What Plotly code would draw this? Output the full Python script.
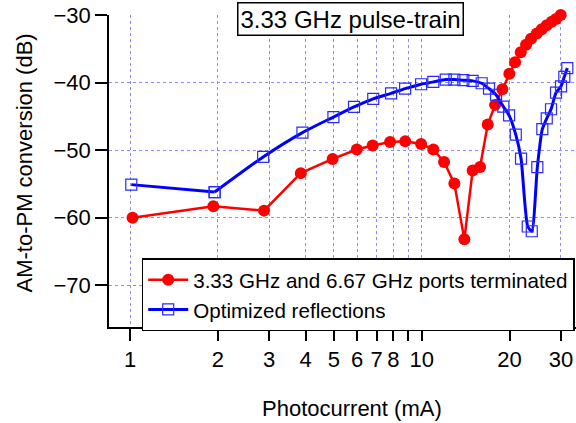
import numpy as np
import plotly.graph_objects as go

# Data
red_x = [1.02, 1.93, 2.88, 3.85, 4.95, 5.99, 6.79, 7.79, 8.78, 9.95, 10.96, 11.93, 12.94, 14.0,
         14.95, 15.85, 16.84, 17.84, 18.90, 19.97, 20.89, 21.85, 22.79, 23.70, 24.80, 25.79,
         26.83, 27.91, 28.87, 29.96]
red_y = [-60.0, -58.3, -58.95, -53.4, -51.3, -49.9, -49.3, -48.8, -48.7, -49.1, -49.9, -51.75,
         -54.95, -63.2, -53.0, -52.5, -46.2, -43.3, -41.0, -38.7, -37.0, -35.5, -34.4, -33.5,
         -32.75, -32.1, -31.5, -31.0, -30.6, -30.0]

blue_x = [1.01, 1.95, 2.86, 3.90, 4.98, 5.86, 6.82, 7.85, 8.77, 9.95, 10.96, 12.09, 12.94, 13.89,
          14.95, 16.05, 17.01, 17.98, 19.05, 19.93, 21.01, 21.90, 23.09, 23.84, 24.91, 25.91,
          26.83, 27.75, 28.87, 30.03, 30.82, 31.56]
blue_y = [-55.1, -56.2, -51.0, -47.4, -45.1, -43.6, -42.4, -41.6, -40.9, -40.25, -39.9, -39.55,
          -39.55, -39.65, -39.75, -40.1, -40.9, -41.8, -43.55, -44.85, -47.7, -51.25, -61.3,
          -62.0, -52.5, -46.9, -45.3, -43.95, -41.5, -40.55, -39.15, -37.85]

red_name = "3.33 GHz and 6.67 GHz ports terminated"
blue_name = "Optimized reflections"
title_text = "3.33 GHz pulse-train"
x_title = "Photocurrent (mA)"
y_title = "AM-to-PM conversion (dB)"

x_tickvals = [1, 2, 3, 4, 5, 6, 7, 8, 9, 10, 20, 30]
x_ticktext = ["1", "2", "3", "4", "5", "6", "7", "8", "", "10", "20", "30"]
y_tickvals = [-30, -40, -50, -60, -70]

FONT = "Liberation Sans, Arial, Helvetica, sans-serif"
GRID = "#8c8cff"

L, R, T, B = 109, 0, 15, 96
W, H = 576, 423
PW, PH = W - L - R, H - T - B

blue_marker = dict(symbol="square-open", size=11, color="#2a2aff", line=dict(width=1.2))

fig = go.Figure()
fig.add_trace(go.Scatter(
    x=red_x, y=red_y, name=red_name, mode="lines+markers",
    line=dict(color="#ff0000", width=2.5),
    marker=dict(symbol="circle", size=12, color="#ff0000"),
    cliponaxis=False,
))
# straight first segment of the blue series
fig.add_trace(go.Scatter(
    x=blue_x[:2], y=blue_y[:2], name=blue_name, mode="lines+markers",
    line=dict(color="#0000ff", width=3), marker=blue_marker,
    showlegend=False, cliponaxis=False,
))
# smooth remainder of the blue series
fig.add_trace(go.Scatter(
    x=blue_x[1:], y=blue_y[1:], name=blue_name, mode="lines+markers",
    line=dict(color="#0000ff", width=3, shape="spline", smoothing=0.6),
    marker=blue_marker, cliponaxis=False,
))

fig.update_layout(
    width=W, height=H,
    margin=dict(l=L, r=R, t=T, b=B, autoexpand=False),
    paper_bgcolor="white", plot_bgcolor="white",
    font=dict(family=FONT, size=22, color="black"),
    showlegend=True,
    legend=dict(
        x=(141.7 - L) / PW, y=(H - B - 258.3) / PH, xanchor="left", yanchor="top",
        bgcolor="white", bordercolor="black", borderwidth=1.5,
        font=dict(size=20.6, family=FONT),
        tracegroupgap=0, itemwidth=40, indentation=0,
    ),
    xaxis=dict(
        type="log", range=[np.log10(0.847), np.log10(33.8)],
        tickmode="array", tickvals=x_tickvals, ticktext=x_ticktext,
        ticks="outside", ticklen=12, tickwidth=1.5, tickcolor="black",
        showline=True, linecolor="black", linewidth=1.5,
        showgrid=True, gridcolor=GRID, griddash="dot", gridwidth=1,
        zeroline=False, tickfont=dict(size=22), automargin=False,
    ),
    yaxis=dict(
        range=[-76.17, -30],
        tickmode="array", tickvals=y_tickvals,
        ticks="outside", ticklen=12, tickwidth=1.5, tickcolor="black",
        showline=True, linecolor="black", linewidth=1.5,
        showgrid=True, gridcolor=GRID, griddash="dot", gridwidth=1,
        zeroline=False, tickfont=dict(size=22), automargin=False,
    ),
    annotations=[
        dict(
            text=title_text, xref="paper", yref="paper",
            x=(350 - L) / PW, y=1 + (T - 2) / PH, xanchor="center", yanchor="top",
            showarrow=False, font=dict(size=24, family=FONT, color="black"),
            bgcolor="white", bordercolor="black", borderwidth=1.5, borderpad=2,
        ),
        dict(
            text=x_title, xref="paper", yref="paper",
            x=(351.5 - L) / PW, y=-(408 - (H - B)) / PH, xanchor="center", yanchor="middle",
            showarrow=False, font=dict(size=22, family=FONT, color="black"),
        ),
        dict(
            text=y_title, xref="paper", yref="paper", textangle=-90,
            x=-(L - 23.5) / PW, y=(H - B - 163) / PH, xanchor="center", yanchor="middle",
            showarrow=False, font=dict(size=22, family=FONT, color="black"),
        ),
    ],
)

fig.write_html("out.html", config={"displayModeBar": False},
               post_script="document.body.style.margin='0';document.body.style.overflow='hidden';")
